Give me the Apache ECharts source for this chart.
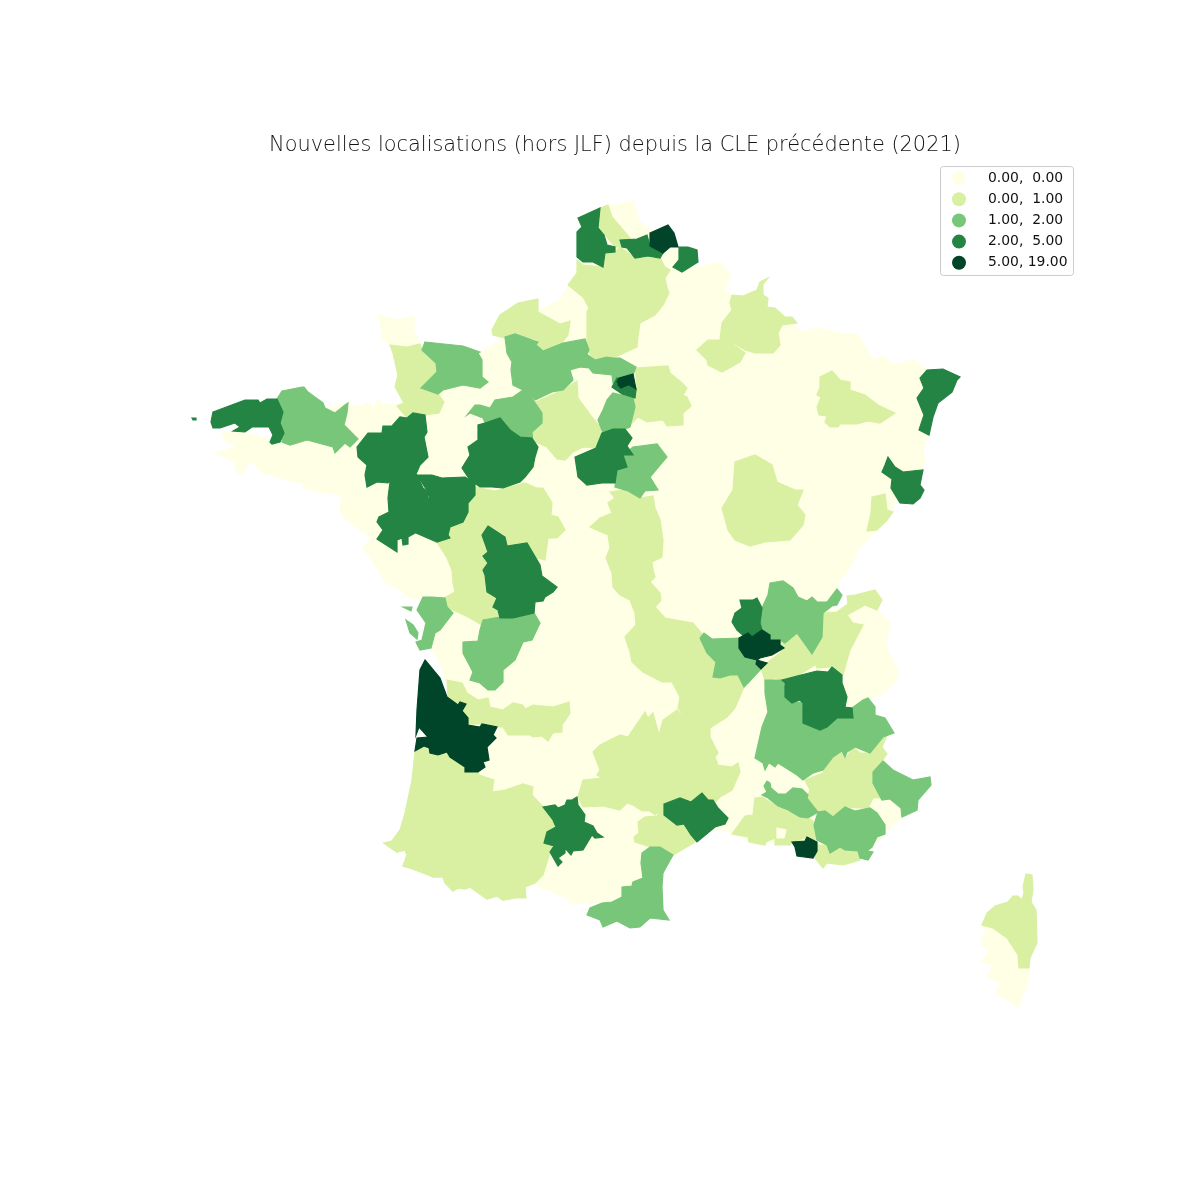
<!DOCTYPE html>
<html>
<head>
<meta charset="utf-8">
<title>Nouvelles localisations</title>
<script src="https://cdn.jsdelivr.net/npm/echarts@6/dist/echarts.min.js"></script>
<style>
  html, body { margin: 0; background: #fff; }
  #main { width: 1200px; height: 1200px; }
</style>
</head>
<body>
<div id="main"></div>
<script>
// values, one per zone (painted in this order)
const zoneNames = [
  'Base', 'Cotentin', 'Corse-du-Sud',
  'Boulonnais', 'Picardie', 'Littoral normand', 'Ardennes', 'Meuse', 'Moselle', 'Aube', 'Loiret',
  'Cote-d-Or', 'Jura', 'Manche', 'Indre', 'Dordogne', 'Pyrenees', 'Pyrenees-Atl', 'Hautes-Pyrenees', 'Ariege',
  'Cantal', 'Loire', 'Isere', 'Savoie', 'Alpes-Hte-Provence', 'Littoral varois', 'Provence', 'Herault', 'Corse',
  'Eure', 'Marne', 'Seine-et-Marne', 'Nievre', 'Calvados', 'Orne', 'Isere-Ouest', 'Charente', 'Re', 'Oleron',
  'Correze', 'Cotes-d-Armor', 'Ain', 'Ardeche', 'Hautes-Alpes', 'Alpes-Maritimes', 'Var', 'Vaucluse', 'Aude',
  'Nord', 'Douai', 'Avesnes', 'Alsace', 'Doubs', 'Finistere', 'Ouessant', 'Ille-et-Vilaine', 'Sarthe',
  'Mayenne', 'Anjou', 'Creuse', 'Tarn', 'Gard', 'Rhone', 'Drome', 'Yonne', 'Essonne',
  'Lille', 'Gironde', 'Lyon', 'Marseille', 'Paris', 'Paris-Ouest', 'Enclave'
];
const zoneValues = [
  0, 0, 0,
  1, 1, 1, 1, 1, 1, 1, 1,
  1, 1, 1, 1, 1, 1, 1, 1, 1,
  1, 1, 1, 1, 1, 1, 1, 1, 1,
  2, 2, 2, 2, 2, 2, 2, 2, 2, 2,
  2, 2, 2, 2, 2, 2, 2, 2, 2,
  4, 3, 3, 4, 3, 3, 3, 4, 4,
  3, 4, 3, 3, 3, 3, 3, 3, 4,
  8, 19, 11, 6, 12, 7, 0
];
const legendLabels = ['0.00,  0.00', '0.00,  1.00', '1.00,  2.00', '2.00,  5.00', '5.00, 19.00'];
const legendBreaks = [0, 1, 2, 5, 19];
const legendColors = ['#ffffe5', '#d9f0a3', '#78c679', '#238443', '#004529'];

// zone outlines in map units, y growing southwards
const outlines = {
  'Base': [[610,206],[633,201],[640,222],[650,229],[660,235],[672,250],[690,252],[685,270],[720,262],[730,275],[725,290],[735,300],[790,322],[802,332],[817,328],[840,333],[858,335],[873,360],[883,356],[893,365],[913,360],[927,370],[932,385],[926,410],[928,434],[923,450],[925,460],[922,470],[915,495],[895,500],[893,510],[887,522],[873,532],[867,540],[858,548],[853,563],[838,583],[833,600],[826,612],[848,606],[856,600],[870,595],[877,610],[890,623],[887,640],[887,650],[898,670],[897,680],[882,695],[870,698],[860,705],[870,720],[870,745],[868,780],[880,795],[890,799],[901,808],[902,817],[890,828],[884,834],[870,850],[850,865],[825,862],[813,856],[790,843],[767,842],[762,845],[732,833],[717,828],[697,840],[680,852],[673,855],[660,870],[655,900],[610,905],[602,902],[570,904],[567,898],[535,885],[525,887],[500,880],[470,870],[430,850],[425,790],[430,745],[455,720],[450,695],[446,680],[437,657],[430,647],[422,650],[425,620],[423,600],[410,598],[397,588],[385,582],[377,567],[363,548],[372,538],[360,530],[343,517],[340,507],[342,495],[320,492],[303,488],[303,483],[287,480],[263,473],[250,460],[243,474],[237,473],[235,462],[215,453],[237,447],[225,440],[222,433],[243,432],[270,440],[284,425],[320,410],[347,403],[357,407],[370,403],[373,410],[378,400],[383,405],[403,403],[397,380],[398,350],[425,346],[470,350],[478,353],[505,338],[520,320],[560,300],[575,275],[585,262],[600,220]],
  'Cotentin': [[377,315],[398,320],[413,316],[416,323],[413,328],[420,344],[407,347],[390,345],[383,340],[380,320]],
  'Corse-du-Sud': [[982,925],[993,928],[1007,938],[1018,955],[1018,968],[1029,968],[1028,980],[1025,990],[1018,1008],[1012,1002],[995,993],[1002,983],[987,977],[993,965],[982,962],[990,950],[982,945],[982,937],[987,933]],
  'Boulonnais': [[600,208],[608,205],[612,217],[630,238],[620,240],[622,247],[615,247],[607,237],[598,228],[600,220],[597,218]],
  'Picardie': [[577,260],[583,265],[603,267],[605,253],[615,252],[620,247],[635,258],[648,256],[660,258],[665,267],[670,270],[665,278],[667,288],[669,293],[663,305],[655,315],[640,323],[638,337],[637,347],[613,358],[607,357],[595,360],[587,350],[587,312],[589,308],[583,297],[568,285],[577,273]],
  'Littoral normand': [[492,330],[500,315],[518,303],[538,299],[538,312],[560,324],[570,321],[568,335],[560,345],[543,350],[535,343],[538,340],[515,334],[505,338],[493,335]],
  'Ardennes': [[732,295],[743,296],[757,290],[760,282],[768,278],[763,284],[763,295],[768,298],[767,307],[775,308],[785,317],[792,317],[797,323],[782,325],[778,333],[780,345],[773,353],[755,353],[745,350],[728,340],[720,340],[722,323],[732,310],[730,303]],
  'Meuse': [[697,350],[708,340],[727,340],[745,353],[740,362],[722,372],[708,365],[707,360]],
  'Moselle': [[820,377],[832,371],[840,380],[850,382],[850,390],[865,395],[878,405],[895,413],[880,423],[868,421],[857,424],[840,424],[838,427],[830,427],[825,422],[827,416],[819,415],[817,407],[821,397],[817,395],[820,387]],
  'Aube': [[635,368],[668,366],[670,373],[682,383],[687,388],[683,395],[687,397],[691,406],[683,413],[683,425],[667,426],[663,420],[647,422],[638,417],[632,423],[632,398],[637,387]],
  'Loiret': [[533,403],[563,390],[577,381],[578,398],[592,417],[600,427],[602,440],[595,448],[583,447],[573,452],[565,460],[557,459],[547,447],[536,442],[532,432],[542,423],[542,413]],
  'Cote-d-Or': [[722,508],[733,490],[735,462],[755,455],[772,465],[777,482],[795,490],[803,490],[797,505],[805,515],[803,525],[790,540],[765,542],[750,546],[735,540],[728,530]],
  'Jura': [[872,497],[885,494],[887,510],[893,512],[887,520],[877,530],[867,531],[871,513]],
  'Manche': [[390,345],[407,347],[420,344],[422,350],[436,363],[436,372],[421,388],[438,394],[444,402],[439,413],[425,415],[413,413],[407,418],[397,406],[404,403],[395,387],[398,375],[393,353]],
  'Indre': [[475,487],[495,491],[525,483],[537,488],[543,488],[552,503],[551,515],[558,517],[565,530],[557,538],[548,538],[545,560],[537,558],[527,543],[507,546],[505,537],[488,526],[482,535],[488,552],[483,556],[488,563],[483,570],[487,577],[487,592],[497,598],[493,607],[500,615],[482,625],[468,617],[447,607],[444,598],[455,592],[453,583],[452,570],[447,558],[437,542],[448,538],[448,528],[462,522],[468,512],[468,503],[475,495]],
  'Dordogne': [[447,680],[462,683],[467,693],[478,700],[488,698],[490,707],[503,710],[513,703],[523,705],[525,709],[533,705],[553,707],[569,702],[570,713],[562,725],[562,732],[553,733],[548,741],[542,736],[533,737],[530,735],[508,735],[503,727],[497,727],[480,724],[468,724],[468,718],[462,711],[466,704],[459,702],[458,705],[448,697]],
  'Pyrenees': [[415,751],[424,746],[430,753],[447,752],[465,767],[465,772],[478,772],[479,775],[494,780],[492,792],[505,790],[523,784],[533,787],[532,795],[543,807],[553,820],[555,827],[545,842],[553,848],[550,853],[547,862],[543,875],[535,883],[525,887],[526,898],[515,898],[503,900],[497,896],[487,899],[470,887],[465,889],[458,888],[453,891],[445,883],[443,877],[433,877],[410,868],[403,866],[407,855],[405,850],[397,852],[388,846],[384,843],[392,841],[400,830],[405,813],[412,780]],
  'Pyrenees-Atl': [[400,830],[417,828],[425,832],[428,837],[437,844],[427,860],[425,873],[410,868],[403,866],[407,855],[405,850],[397,852],[388,846],[384,843],[392,841]],
  'Hautes-Pyrenees': [[427,832],[452,827],[482,823],[488,837],[485,855],[477,863],[470,880],[470,887],[465,889],[458,888],[453,891],[445,883],[443,877],[433,877],[425,873],[427,860],[437,844],[428,837]],
  'Ariege': [[470,887],[470,880],[477,863],[485,855],[488,837],[495,842],[503,842],[508,845],[520,847],[513,863],[523,873],[515,885],[514,898],[503,900],[497,896],[487,899]],
  'Cantal': [[593,752],[600,745],[620,735],[628,737],[645,712],[648,718],[653,713],[659,735],[663,720],[677,710],[687,722],[697,717],[710,728],[710,737],[718,753],[715,757],[718,765],[732,767],[738,763],[740,772],[732,790],[720,797],[708,810],[695,800],[665,805],[655,815],[650,811],[642,811],[633,805],[627,803],[620,810],[603,806],[583,807],[578,797],[583,780],[602,778],[597,775],[600,770]],
  'Loire': [[610,492],[623,490],[640,498],[653,496],[655,508],[660,520],[663,540],[662,557],[652,562],[653,570],[655,577],[650,582],[660,593],[661,600],[655,607],[665,618],[693,623],[703,635],[715,663],[713,677],[738,675],[744,687],[735,708],[727,717],[710,728],[697,717],[687,722],[678,708],[680,697],[672,682],[662,682],[643,672],[632,662],[630,652],[625,637],[636,625],[635,613],[630,600],[620,595],[613,587],[612,573],[606,558],[610,548],[608,535],[590,527],[600,518],[612,513],[608,503],[615,498]],
  'Isere': [[762,670],[767,663],[780,653],[784,648],[780,642],[797,633],[812,654],[815,665],[797,676],[782,680],[775,678],[765,682]],
  'Savoie': [[823,613],[837,612],[848,604],[847,596],[855,595],[875,590],[882,600],[877,610],[865,605],[847,615],[853,623],[863,625],[850,650],[847,660],[843,675],[830,667],[817,668],[812,654],[822,637]],
  'Alpes-Hte-Provence': [[805,780],[823,773],[830,758],[842,753],[846,758],[853,747],[860,753],[870,753],[887,735],[882,747],[887,754],[882,761],[873,773],[877,787],[885,798],[873,798],[868,808],[857,808],[848,807],[833,817],[825,811],[818,812],[812,804],[807,798],[810,790]],
  'Littoral varois': [[818,845],[827,845],[830,853],[840,847],[847,851],[858,851],[860,860],[843,865],[827,863],[823,868],[815,858],[817,850]],
  'Provence': [[755,798],[762,797],[778,807],[800,817],[808,818],[813,821],[815,830],[819,840],[805,838],[792,842],[790,845],[775,845],[775,838],[766,842],[765,845],[749,842],[748,837],[732,834],[745,816],[753,815]],
  'Herault': [[638,822],[645,817],[657,816],[663,805],[664,813],[677,822],[683,823],[690,832],[695,842],[680,851],[673,855],[663,850],[650,847],[635,842],[634,837],[639,833]],
  'Corse': [[982,925],[987,913],[995,906],[1008,902],[1013,896],[1018,896],[1022,900],[1024,893],[1023,887],[1026,874],[1032,875],[1033,890],[1031,902],[1036,910],[1037,943],[1030,958],[1029,968],[1019,968],[1018,955],[1007,938],[993,928]],
  'Eure': [[505,337],[515,334],[538,342],[536,345],[543,351],[563,343],[585,339],[589,350],[580,367],[570,370],[573,380],[563,390],[552,392],[535,400],[523,390],[513,385],[511,370],[512,362],[507,353]],
  'Marne': [[585,353],[595,360],[607,357],[613,358],[620,358],[636,367],[633,375],[622,378],[613,383],[612,375],[593,373],[589,368],[580,367]],
  'Seine-et-Marne': [[607,400],[613,393],[633,398],[635,407],[630,427],[625,429],[613,429],[603,433],[598,420],[603,410]],
  'Nievre': [[623,455],[633,447],[657,444],[667,457],[660,465],[650,477],[658,490],[645,491],[640,498],[628,491],[615,487],[617,470],[627,467]],
  'Calvados': [[425,342],[463,346],[480,352],[478,353],[482,360],[482,377],[488,382],[480,388],[463,385],[443,390],[438,394],[421,388],[437,372],[436,363],[422,350]],
  'Orne': [[467,415],[475,405],[480,405],[490,408],[495,400],[513,397],[523,390],[533,400],[542,413],[542,423],[532,432],[533,442],[520,437],[510,429],[500,418],[485,423],[483,418],[470,413]],
  'Isere-Ouest': [[700,638],[704,633],[712,639],[739,638],[739,648],[745,657],[757,661],[756,664],[761,669],[748,683],[744,687],[738,675],[730,675],[720,678],[713,677],[716,662],[707,653]],
  'Charente': [[432,597],[445,598],[447,607],[453,613],[440,630],[435,633],[431,648],[420,650],[416,642],[422,640],[426,623],[417,610],[423,597]],
  'Re': [[403,607],[412,607],[411,611]],
  'Oleron': [[406,620],[413,625],[418,633],[417,639],[410,633]],
  'Correze': [[483,620],[500,617],[534,613],[540,623],[532,640],[523,642],[515,660],[503,670],[503,682],[495,690],[488,690],[480,683],[470,680],[473,672],[463,653],[463,642],[478,641],[480,630]],
  'Cotes-d-Armor': [[282,391],[302,387],[304,387],[308,392],[323,403],[325,408],[335,413],[345,405],[348,403],[347,413],[344,425],[358,439],[350,447],[345,443],[335,453],[333,447],[307,440],[290,445],[282,442],[284,433],[280,423],[283,412],[277,399]],
  'Ain': [[770,583],[783,581],[793,588],[798,597],[807,601],[812,597],[817,602],[827,602],[837,589],[842,595],[837,605],[832,606],[823,613],[822,637],[812,654],[797,633],[785,643],[780,640],[770,640],[770,635],[762,630],[760,620],[762,608],[768,595]],
  'Ardeche': [[765,680],[782,680],[785,688],[785,698],[793,703],[802,702],[803,723],[820,731],[812,737],[810,750],[813,773],[803,780],[797,775],[778,763],[775,767],[768,762],[773,755],[765,770],[763,763],[755,758],[762,727],[768,712],[765,693]],
  'Hautes-Alpes': [[813,733],[820,730],[827,727],[837,718],[853,718],[852,708],[863,700],[868,698],[875,707],[875,715],[885,718],[894,733],[883,737],[870,753],[855,747],[847,752],[845,757],[842,751],[833,757],[823,770],[813,773],[810,750]],
  'Alpes-Maritimes': [[883,761],[893,770],[913,780],[930,777],[931,785],[918,800],[917,810],[902,817],[901,808],[890,799],[882,800],[873,783],[873,772]],
  'Var': [[818,812],[825,811],[833,817],[845,807],[855,811],[870,808],[877,813],[885,825],[885,834],[877,837],[872,847],[867,851],[873,852],[868,860],[860,858],[858,851],[845,850],[840,847],[830,853],[827,845],[817,840],[814,825]],
  'Vaucluse': [[762,795],[768,798],[778,806],[788,810],[800,817],[808,818],[818,812],[814,807],[807,798],[808,795],[802,789],[793,788],[786,794],[778,794],[771,788],[770,783],[767,781],[764,786],[767,792]],
  'Aude': [[650,847],[660,847],[673,855],[663,873],[662,887],[663,910],[669,920],[650,918],[640,927],[630,928],[617,921],[603,927],[600,920],[587,915],[590,908],[602,903],[612,902],[622,897],[622,887],[632,886],[633,882],[643,878],[641,863],[642,853]],
  'Nord': [[578,218],[600,208],[598,228],[604,235],[607,245],[615,247],[615,252],[605,253],[603,267],[593,262],[583,262],[577,257],[577,232],[582,227]],
  'Douai': [[620,240],[637,239],[647,235],[650,246],[663,253],[660,258],[648,256],[635,258],[627,248],[622,247]],
  'Avesnes': [[679,247],[688,247],[697,250],[698,262],[682,272],[673,267],[679,260]],
  'Alsace': [[927,370],[943,369],[960,377],[957,380],[952,392],[938,403],[933,417],[929,435],[919,430],[924,415],[917,398],[924,388],[920,378]],
  'Doubs': [[888,457],[895,467],[903,472],[923,470],[920,485],[924,490],[920,498],[913,504],[900,503],[891,488],[892,479],[882,472],[885,465]],
  'Finistere': [[213,412],[245,400],[258,400],[260,403],[267,399],[277,399],[283,412],[280,423],[284,433],[280,442],[272,444],[270,442],[273,435],[269,427],[252,427],[245,432],[233,431],[240,427],[235,423],[220,428],[213,428],[211,422]],
  'Ouessant': [[192,418],[196,418],[196,420],[193,420]],
  'Ille-et-Vilaine': [[357,447],[368,433],[382,433],[383,426],[392,426],[400,417],[407,418],[413,413],[425,415],[427,432],[424,437],[428,457],[420,465],[416,474],[402,471],[388,483],[377,482],[367,487],[365,475],[367,465],[358,457]],
  'Sarthe': [[500,418],[510,430],[520,437],[532,438],[538,447],[535,457],[533,467],[525,477],[520,482],[503,488],[492,487],[480,487],[470,480],[462,468],[470,455],[468,447],[478,440],[478,425],[485,423]],
  'Mayenne': [[402,471],[417,475],[423,488],[428,492],[428,498],[432,502],[432,508],[412,513],[420,525],[415,533],[408,537],[408,544],[403,545],[402,538],[397,540],[397,552],[377,539],[383,530],[377,522],[379,517],[389,512],[388,498],[390,482]],
  'Anjou': [[417,475],[432,475],[442,478],[465,477],[475,483],[475,495],[468,503],[468,512],[463,522],[450,527],[448,535],[450,538],[437,542],[416,533],[420,525],[412,513],[432,508],[428,492]],
  'Creuse': [[488,526],[505,537],[507,546],[527,543],[540,565],[542,576],[557,587],[553,592],[545,597],[543,601],[535,602],[534,613],[513,618],[500,618],[498,610],[493,607],[497,598],[487,592],[485,575],[483,570],[488,563],[483,556],[488,552],[482,535]],
  'Tarn': [[543,807],[555,805],[558,808],[565,805],[567,800],[572,800],[577,797],[578,805],[585,815],[584,822],[593,826],[597,833],[603,837],[595,838],[592,835],[583,850],[573,851],[571,855],[565,848],[565,853],[558,858],[562,862],[558,866],[550,852],[554,846],[544,843],[547,832],[556,827],[553,820]],
  'Gard': [[664,804],[680,798],[691,802],[702,793],[708,800],[713,800],[718,808],[728,818],[725,824],[715,827],[697,842],[691,835],[684,824],[677,825],[664,815]],
  'Rhone': [[740,600],[753,600],[757,598],[762,608],[760,623],[762,630],[752,637],[748,633],[746,638],[737,630],[732,622],[735,613],[742,608]],
  'Drome': [[782,680],[797,676],[817,671],[828,672],[832,667],[842,675],[842,683],[847,697],[845,707],[852,708],[853,718],[837,718],[827,727],[820,730],[803,723],[803,703],[800,700],[792,703],[785,697],[785,683]],
  'Yonne': [[602,433],[613,429],[625,429],[632,438],[627,446],[633,455],[623,455],[627,467],[617,470],[615,483],[602,483],[587,485],[578,477],[575,457],[596,448]],
  'Essonne': [[617,378],[612,387],[622,394],[635,398],[636,390],[629,386],[622,388]],
  'Lille': [[650,233],[668,225],[674,233],[678,247],[670,247],[663,253],[650,246]],
  'Gironde': [[425,660],[440,678],[447,697],[458,705],[460,702],[466,704],[462,711],[468,718],[468,725],[480,727],[482,724],[497,727],[493,735],[496,738],[487,747],[489,760],[483,762],[485,767],[478,772],[465,772],[465,767],[450,757],[447,752],[438,755],[430,753],[429,748],[424,746],[415,751],[417,738],[428,737],[419,727],[416,735],[417,710],[420,670]],
  'Lyon': [[739,638],[748,633],[752,637],[762,630],[770,635],[770,640],[780,640],[780,645],[784,648],[772,655],[760,658],[757,660],[767,663],[761,669],[756,664],[757,660],[745,657],[739,648]],
  'Marseille': [[792,842],[805,841],[807,837],[817,842],[817,851],[813,858],[797,856],[795,847]],
  'Paris': [[619,378],[633,374],[636,389],[629,385],[622,387],[617,382]],
  'Paris-Ouest': [[618,385],[622,382],[625,386],[621,388]],
  'Enclave': [[777,828],[786,830],[784,838],[777,838]]
};

const geo = {
  type: 'FeatureCollection',
  features: zoneNames.map(name => ({
    type: 'Feature',
    properties: { name: name },
    geometry: { type: 'Polygon', coordinates: [outlines[name].map(p => [p[0], -p[1]])] }
  }))
};
echarts.registerMap('france', geo);

const myChart = echarts.init(document.getElementById('main'));
myChart.setOption({
  animation: false,
  title: {
    text: 'Nouvelles localisations (hors JLF) depuis la CLE précédente (2021)',
    left: 610,
    top: 130,
    textAlign: 'center',
    textStyle: { fontFamily: 'DejaVu Sans', fontWeight: 200, fontSize: 20.9, color: '#111' }
  },
  graphic: [{
    type: 'rect',
    z: 0,
    shape: { x: 940.5, y: 166.5, width: 133, height: 109, r: 3 },
    style: { fill: '#fff', stroke: '#ccc', lineWidth: 1 }
  }],
  visualMap: {
    type: 'piecewise',
    left: 952,
    top: 171,
    padding: 0,
    inverse: true,
    itemWidth: 14,
    itemHeight: 14,
    itemGap: 7.2,
    itemSymbol: 'circle',
    align: 'left',
    textGap: 22,
    selectedMode: false,
    hoverLink: false,
    textStyle: { fontFamily: 'DejaVu Sans', fontSize: 13.9, color: '#111' },
    pieces: [
      { lte: 0, label: legendLabels[0], color: legendColors[0] },
      { gt: 0, lte: 1, label: legendLabels[1], color: legendColors[1] },
      { gt: 1, lte: 2, label: legendLabels[2], color: legendColors[2] },
      { gt: 2, lte: 5, label: legendLabels[3], color: legendColors[3] },
      { gt: 5, lte: 19, label: legendLabels[4], color: legendColors[4] }
    ]
  },
  series: [{
    type: 'map',
    map: 'france',
    roam: false,
    silent: true,
    aspectScale: 1,
    boundingCoords: [[0, 0], [1200, -1200]],
    layoutCenter: ['50%', '50%'],
    layoutSize: 1200,
    label: { show: false },
    // stroke in the zone's own colour so that neighbours close up
    data: zoneNames.map((name, i) => ({
      name: name,
      value: zoneValues[i],
      itemStyle: {
        borderColor: legendColors[legendBreaks.findIndex(b => zoneValues[i] <= b)],
        borderWidth: 1.2
      }
    }))
  }]
});
</script>
</body>
</html>
